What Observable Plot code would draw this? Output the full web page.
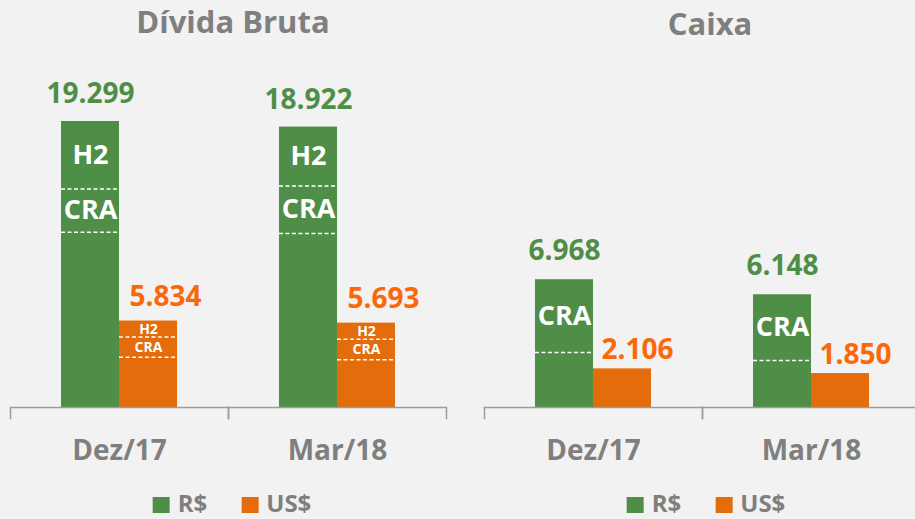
<!DOCTYPE html>
<html>
<head>
<meta charset="utf-8">
<script src="https://cdn.jsdelivr.net/npm/d3@7"></script>
<script src="https://cdn.jsdelivr.net/npm/@observablehq/plot@0.6"></script>
<style>
html, body { margin: 0; padding: 0; background: #f2f2f2; overflow: hidden; width: 915px; height: 519px; }
#root { position: relative; width: 915px; height: 519px; font-family: "Open Sans", sans-serif; }
.title { position: absolute; font-weight: 700; font-size: 31px; line-height: 31px; color: #7f7f7f; white-space: nowrap; transform: translateX(-50%); }
.panel { position: absolute; top: 50px; }
.legend { position: absolute; top: 491px; display: flex; align-items: flex-start; transform: translateX(-50%); white-space: nowrap; }
.item { display: flex; align-items: flex-start; margin-right: 34px; }
.item:last-child { margin-right: 0; }
.sw { width: 17px; height: 16px; margin-top: 6px; margin-right: 8px; }
.lab { font-weight: 700; font-size: 24px; line-height: 24px; color: #7f7f7f; }
</style>
</head>
<body>
<div id="root"></div>
<script>
// ---- data ----
const periods = ["Dez/17", "Mar/18"];
const currencies = ["R$", "US$"];
const titles = ["Dívida Bruta", "Caixa"];

const dividaBRL = [19299, 18922];
const dividaUSD = [5834, 5693];
const caixaBRL = [6968, 6148];
const caixaUSD = [2106, 1850];

// highlighted segments at the top of each bar (estimated sizes)
const dividaBRL_H2 = [4550, 3970];
const dividaBRL_CRA = [2925, 3215];
const dividaUSD_H2 = [1085, 1080];
const dividaUSD_CRA = [1350, 1390];
const caixaBRL_CRA = [3970, 3590];

// ---- styles ----
const green = "#4f8e46";
const orange = "#e46c0a";
const orangeText = "#fb680a";
const gray = "#7f7f7f";
const axisGray = "#9c9c9c";

const fmt = d3.formatLocale({decimal: ",", thousands: ".", grouping: [3], currency: ["", ""]}).format(",d");

function buildRows(brl, usd, segBRL, segUSD) {
  const rows = [];
  periods.forEach((p, i) => {
    rows.push({period: p, currency: "R$", value: brl[i], segs: segBRL.map(s => ({name: s.name, size: s.values[i]}))});
    rows.push({period: p, currency: "US$", value: usd[i], segs: segUSD.map(s => ({name: s.name, size: s.values[i]}))});
  });
  return rows;
}

function derive(rows) {
  const lines = [], labels = [];
  for (const r of rows) {
    let top = r.value;
    for (const s of r.segs) {
      const bottom = top - s.size;
      lines.push({period: r.period, currency: r.currency, y: bottom});
      labels.push({period: r.period, currency: r.currency, y: (top + bottom) / 2, name: s.name});
      top = bottom;
    }
  }
  return {lines, labels};
}

function panel(rows, yMax, width, mL, mR, o) {
  const {lines, labels} = derive(rows);
  const height = 430, marginTop = 30, marginBottom = 73;
  const plotH = height - marginTop - marginBottom;
  return Plot.plot({
    width, height, marginTop, marginBottom, marginLeft: mL, marginRight: mR,
    style: {background: "transparent", fontFamily: "Open Sans, sans-serif", overflow: "visible"},
    fx: {domain: periods, padding: 0, axis: null},
    x: {domain: currencies, paddingInner: 0, paddingOuter: 0.8475, align: 0.5, axis: null},
    y: {domain: [0, yMax], axis: null},
    color: {domain: currencies, range: [green, orange]},
    marks: [
      Plot.barY(rows, {fx: "period", x: "currency", y: "value", fill: "currency"}),
      Plot.tickY(lines, {fx: "period", x: "currency", y: "y", stroke: "white", strokeWidth: 1.5, strokeDasharray: "4,2.5"}),
      Plot.text(labels.filter(d => d.currency === "R$"), {fx: "period", x: "currency", y: "y", text: "name",
        fill: "white", fontWeight: 700, fontSize: 27, lineAnchor: "middle"}),
      Plot.text(labels.filter(d => d.currency === "US$"), {fx: "period", x: "currency", y: "y", text: "name",
        fill: "white", fontWeight: 700, fontSize: 14, lineAnchor: "middle"}),
      Plot.text(rows.filter(d => d.currency === "R$"), {fx: "period", x: "currency", y: "value", text: d => fmt(d.value),
        fill: green, fontWeight: 700, fontSize: 28, lineAnchor: "bottom", dy: o.gDy}),
      Plot.text(rows.filter(d => d.currency === "US$"), {fx: "period", x: "currency", y: "value", text: d => fmt(d.value),
        fill: orangeText, fontWeight: 700, fontSize: 28, lineAnchor: "bottom", dy: o.oDy, dx: o.oDx}),
      Plot.ruleY([0], {stroke: axisGray, strokeWidth: 1.5}),
      Plot.frame({anchor: "left", insetTop: plotH, insetBottom: -11, stroke: axisGray, strokeWidth: 1.5}),
      Plot.frame({anchor: "right", insetTop: plotH, insetBottom: -11, stroke: axisGray, strokeWidth: 1.5}),
      Plot.text(periods, {fx: d => d, text: d => d, frameAnchor: "bottom", dy: 52, lineAnchor: "bottom",
        fill: gray, fontWeight: 700, fontSize: 28})
    ]
  });
}

const root = document.getElementById("root");

const dividaRows = buildRows(dividaBRL, dividaUSD,
  [{name: "H2", values: dividaBRL_H2}, {name: "CRA", values: dividaBRL_CRA}],
  [{name: "H2", values: dividaUSD_H2}, {name: "CRA", values: dividaUSD_CRA}]);
const caixaRows = buildRows(caixaBRL, caixaUSD,
  [{name: "CRA", values: caixaBRL_CRA}], []);

const p1 = panel(dividaRows, 22065, 457, 10, 11, {gDy: -18, oDy: -15, oDx: 17});
const p2 = panel(caixaRows, 17830, 458, 27, -5, {gDy: -20, oDy: -10, oDx: 15});

const d1 = document.createElement("div"); d1.className = "panel"; d1.style.left = "0px"; d1.appendChild(p1); root.appendChild(d1);
const d2 = document.createElement("div"); d2.className = "panel"; d2.style.left = "457px"; d2.appendChild(p2); root.appendChild(d2);

// titles
const titlePos = [{left: 233, top: 6}, {left: 710, top: 8}];
titles.forEach((t, i) => {
  const el = document.createElement("div");
  el.className = "title";
  el.textContent = t;
  el.style.left = titlePos[i].left + "px";
  el.style.top = titlePos[i].top + "px";
  root.appendChild(el);
});

// legends
const colors = [green, orange];
[232, 706].forEach(cx => {
  const lg = document.createElement("div");
  lg.className = "legend";
  lg.style.left = cx + "px";
  currencies.forEach((c, i) => {
    const it = document.createElement("div"); it.className = "item";
    const sw = document.createElement("div"); sw.className = "sw"; sw.style.background = colors[i];
    const lb = document.createElement("div"); lb.className = "lab"; lb.textContent = c;
    it.appendChild(sw); it.appendChild(lb); lg.appendChild(it);
  });
  root.appendChild(lg);
});
</script>
</body>
</html>
